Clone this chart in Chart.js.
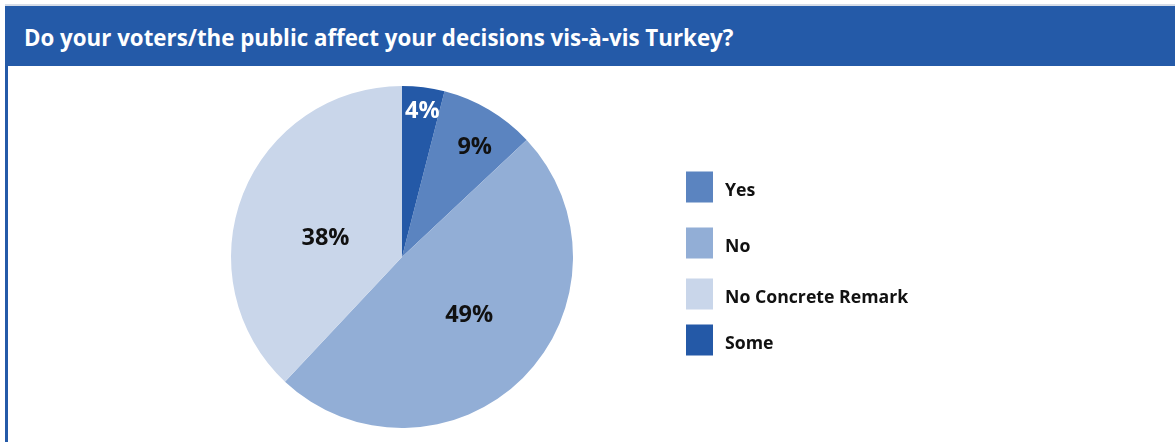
<!DOCTYPE html>
<html>
<head>
<meta charset="utf-8">
<script src="https://cdn.jsdelivr.net/npm/chart.js@4/dist/chart.umd.min.js"></script>
<style>
  html, body { margin: 0; padding: 0; background: #fff; }
  body { width: 1175px; height: 442px; position: relative; overflow: hidden; font-family: "Open Sans", Lato, sans-serif; }
  .topline { position: absolute; left: 5px; top: 4px; width: 1170px; height: 2px; background: #d6dde8; }
  .header { position: absolute; left: 5px; top: 6px; width: 1170px; height: 60px; background: #245aa8; }
  .header h1 { margin: 0; position: absolute; left: 19px; top: 19px; line-height: 26px; color: #fff; font-size: 22.3px; font-weight: 700; letter-spacing: 0; white-space: nowrap; }
  .frame-left { position: absolute; left: 5px; top: 66px; width: 3px; height: 376px; background: #245aa8; }
  #chart { position: absolute; left: 0; top: 0; }
</style>
</head>
<body>
<div class="topline"></div>
<div class="header"><h1>Do your voters/the public affect your decisions vis-à-vis Turkey?</h1></div>
<div class="frame-left"></div>
<canvas id="chart" width="1175" height="442"></canvas>
<script>
// Survey answers, in legend order
const categories = ['Yes', 'No', 'No Concrete Remark', 'Some'];
const shares = [9, 49, 38, 4];
const sliceColors = ['#5b84c0', '#92aed6', '#c9d6ea', '#2459a7'];
const valueLabelColors = ['#111111', '#111111', '#111111', '#ffffff'];

// Percent labels placed inside each slice (radial fraction, angular fraction)
const sliceLabels = {
  id: 'sliceLabels',
  afterDatasetsDraw(chart, args, opts) {
    const ctx = chart.ctx;
    const meta = chart.getDatasetMeta(0);
    ctx.save();
    ctx.font = opts.font;
    ctx.textAlign = 'center';
    ctx.textBaseline = 'middle';
    meta.data.forEach((arc, i) => {
      const p = opts.place[i];
      const a = arc.startAngle + (arc.endAngle - arc.startAngle) * p[1];
      const r = arc.outerRadius * p[0];
      ctx.fillStyle = valueLabelColors[i];
      ctx.fillText(shares[i] + '%', arc.x + Math.cos(a) * r, arc.y + Math.sin(a) * r);
    });
    ctx.restore();
  }
};

// Square-swatch legend to the right of the pie
const sideLegend = {
  id: 'sideLegend',
  afterDraw(chart, args, opts) {
    const ctx = chart.ctx;
    const ds = chart.data.datasets[0];
    ctx.save();
    ctx.font = opts.font;
    ctx.textBaseline = 'middle';
    ctx.textAlign = 'left';
    chart.data.labels.forEach((label, i) => {
      const cy = opts.rows[i];
      ctx.fillStyle = ds.backgroundColor[i];
      ctx.fillRect(opts.x, cy - opts.boxH / 2, opts.boxW, opts.boxH);
      ctx.fillStyle = '#111111';
      ctx.fillText(label, opts.x + opts.boxW + opts.gap, cy + 3.5);
    });
    ctx.restore();
  }
};

new Chart(document.getElementById('chart'), {
  type: 'pie',
  data: {
    labels: categories,
    datasets: [{
      data: shares,
      backgroundColor: sliceColors,
      borderWidth: 0
    }]
  },
  options: {
    responsive: false,
    animation: false,
    rotation: 14.4,
    layout: { padding: { top: 86, bottom: 14, left: 231, right: 602 } },
    plugins: {
      legend: { display: false },
      tooltip: { enabled: false },
      sliceLabels: {
        font: 'bold 23.5px "Open Sans", Lato, sans-serif',
        place: [[0.77, 0.59], [0.52, 0.477], [0.46, 0.44], [0.86, 0.55]]
      },
      sideLegend: {
        font: 'bold 17.7px "Open Sans", Lato, sans-serif',
        x: 686, boxW: 27, boxH: 31, gap: 12,
        rows: [187, 243, 294, 340]
      }
    }
  },
  plugins: [sliceLabels, sideLegend]
});
</script>
</body>
</html>
